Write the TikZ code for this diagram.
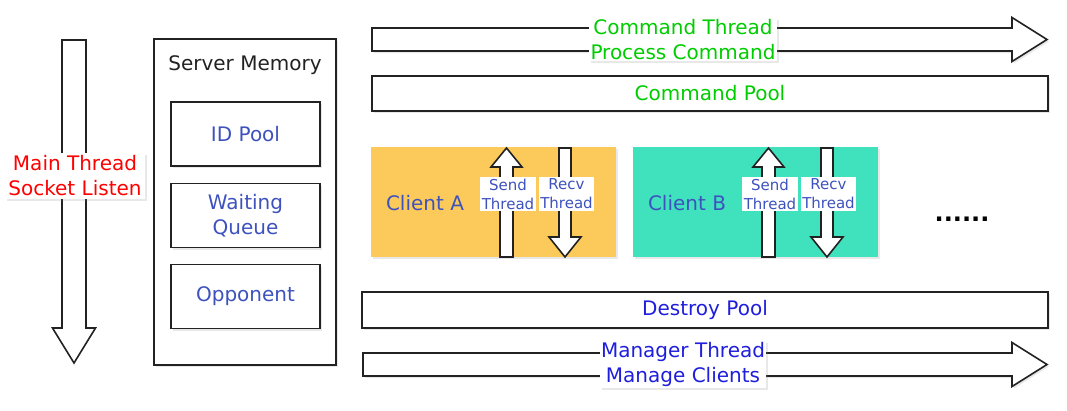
\documentclass[tikz,border=0pt]{standalone}
\usepackage{fontspec}
\setmainfont{DejaVu Sans}
\usepackage{xcolor}
\usetikzlibrary{calc,shadows,positioning}
\definecolor{clientA}{RGB}{252,202,90}
\definecolor{clientB}{RGB}{64,226,190}
\definecolor{slate}{RGB}{62,82,190}
\definecolor{deepblue}{RGB}{30,30,220}
\definecolor{lime}{RGB}{0,205,0}
\definecolor{edge}{RGB}{34,34,34}
\tikzset{
  outline/.style={draw=edge,line width=1.6pt,line join=miter},
  shade/.style={drop shadow={opacity=0.18,shadow xshift=2pt,shadow yshift=-2pt}},
  bigtext/.style={font=\fontsize{20}{25}\selectfont,align=center},
  smalltext/.style={font=\fontsize{15}{19}\selectfont,align=center,text=slate},
  membox/.style={outline,fill=white,shade,inner sep=0pt},
  client/.style={shade,inner sep=0pt,minimum width=245,minimum height=110},
  tag/.style={fill=white,inner sep=1.5pt},
}
% block arrows: name, mid, start, head base, tip
\newcommand{\harrowat}[5]{\draw[outline,fill=white,shade] (#3,#2-11.5) -- (#4,#2-11.5) -- (#4,#2-22) -- (#5,#2) -- (#4,#2+22) -- (#4,#2+11.5) -- (#3,#2+11.5) -- cycle ; \coordinate (#1) at (#5,#2) ;}
\newcommand{\varrowat}[7]{\draw[outline,fill=white] (#2-#6,#3) -- (#2-#6,#4) -- (#2-#7,#4) -- (#2,#5) -- (#2+#7,#4) -- (#2+#6,#4) -- (#2+#6,#3) -- cycle ; \coordinate (#1) at (#2,#5) ;}

\begin{document}
\begin{tikzpicture}[x=1pt,y=-1pt]
    \useasboundingbox (0,0) rectangle (1067,410);
    % main thread
    \varrowat{MainTip}{74}{40}{328}{363}{12}{21.5}
    \node[bigtext,text=red,tag,inner sep=3pt,shade] (Main) at (75,176) {Main Thread\\Socket Listen};
    % server memory
    \node[membox,minimum width=182,minimum height=326] (Mem) at (245,202) {};
    \node[bigtext,text=edge] (MemTitle) at (245,65) {Server Memory};
    \node[membox,minimum width=149,minimum height=64] (IDPool) at (245.5,134) {};
    \node[bigtext,text=slate] at (IDPool) {ID Pool};
    \node[membox,minimum width=149,minimum height=64] (Waiting) at (245.5,215.5) {};
    \node[bigtext,text=slate] at (Waiting) {Waiting\\Queue};
    \node[membox,minimum width=149,minimum height=64] (Opp) at (245.5,296.5) {};
    \node[bigtext,text=slate] at (Opp) {Opponent};
    % command thread
    \harrowat{CmdTip}{39.5}{372}{1012}{1047}
    \node[bigtext,text=lime,tag,shade] (Cmd) at (683,39.5) {Command Thread\\Process Command};
    \node[membox,minimum width=676,minimum height=35] (CmdPool) at (710,93.5) {};
    \node[bigtext,text=lime] at (CmdPool) {Command Pool};
    % clients
    \node[client,fill=clientA] (ClientA) at (493.5,202) {};
    \node[client,fill=clientB] (ClientB) at (755.5,202) {};
    \node[font=\fontsize{20}{24}\selectfont,text=slate] at (425,203) {Client A};
    \node[font=\fontsize{20}{24}\selectfont,text=slate] at (687,203) {Client B};
    \foreach \off/\who in {0/A,262/B}{
        \varrowat{Send\who}{506.5+\off}{257}{167}{148}{6.5}{15.5}
        \varrowat{Recv\who}{565+\off}{148}{237}{257}{6}{16}
        \node[smalltext,tag] (SendTag\who) at (508+\off,194) {Send\\Thread};
        \node[smalltext,tag] (RecvTag\who) at (566.5+\off,194) {Recv\\Thread};
    }
    \node[font=\bfseries\fontsize{24}{28}\selectfont] (More) at (962,219) {......};
    % destroy pool and manager thread
    \node[membox,minimum width=686,minimum height=36] (DesPool) at (705,310) {};
    \node[bigtext,text=deepblue] at (DesPool) {Destroy Pool};
    \harrowat{MgrTip}{364.5}{363}{1012}{1047}
    \node[bigtext,text=deepblue,tag,shade] (Mgr) at (683,364.5) {Manager Thread\\Manage Clients};
\end{tikzpicture}
\end{document}
